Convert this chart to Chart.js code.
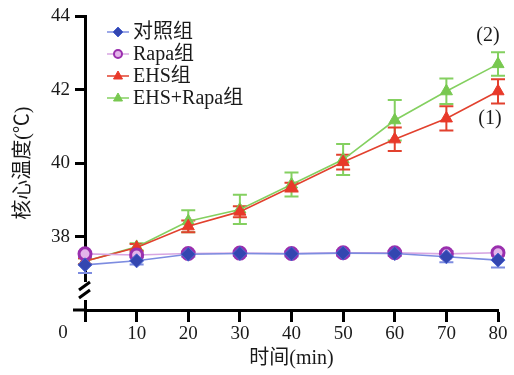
<!DOCTYPE html>
<html>
<head>
<meta charset="utf-8">
<script src="https://cdn.jsdelivr.net/npm/chart.js@4.4.1/dist/chart.umd.min.js"></script>
<style>
  html, body { margin: 0; padding: 0; background: #fff; }
  #wrap { width: 514px; height: 375px; position: relative; }
</style>
</head>
<body>
<div id="wrap"><canvas id="c"></canvas></div>
<script>
  // ── Data ───────────────────────────────────────────────────────────────
  const TIMES = [0, 10, 20, 30, 40, 50, 60, 70, 80];
  const SERIES_NAMES = ["对照组", "Rapa组", "EHS组", "EHS+Rapa组"];

  const CONTROL = [37.23, 37.34, 37.52, 37.54, 37.53, 37.55, 37.54, 37.45, 37.36];
  const RAPA = [37.53, 37.5, 37.54, 37.55, 37.54, 37.56, 37.56, 37.53, 37.56];
  const EHS = [37.33, 37.7, 38.28, 38.68, 39.35, 40.03, 40.65, 41.22, 41.96];
  const EHS_RAPA = [37.33, 37.72, 38.42, 38.74, 39.42, 40.1, 41.17, 41.96, 42.7];

  const CONTROL_ERR = [0.22, 0.1, 0.07, 0.07, 0.07, 0.07, 0.07, 0.15, 0.2];
  const RAPA_ERR = [0.06, 0.06, 0.05, 0.05, 0.05, 0.05, 0.05, 0.08, 0.08];
  const EHS_ERR = [0.08, 0.1, 0.16, 0.15, 0.12, 0.2, 0.32, 0.33, 0.33];
  const EHS_RAPA_ERR = [0.08, 0.1, 0.3, 0.4, 0.33, 0.42, 0.55, 0.35, 0.32];

  const Y_TICKS = [38, 40, 42, 44];
  const X_TICKS = [0, 10, 20, 30, 40, 50, 60, 70, 80];

  const FONT = "'Liberation Serif', 'Noto Sans CJK SC', serif";

  const STYLES = [
    { line: "#7d8ce0", fill: "#3346b0", border: "#4a63d0", point: "rectRot", r: 7 },
    { line: "#d8a6e2", fill: "#e3b4ea", border: "#9a2fae", point: "circle", r: 6 },
    { line: "#e2412e", fill: "#e8392a", border: "#e8392a", point: "triangle", r: 7 },
    { line: "#84d060", fill: "#78c850", border: "#78c850", point: "triangle", r: 7 },
  ];
  const VALUES = [CONTROL, RAPA, EHS, EHS_RAPA];
  const ERRORS = [CONTROL_ERR, RAPA_ERR, EHS_ERR, EHS_RAPA_ERR];

  // ── Error bars under the markers ─────────────────────────────────────────
  const errorBars = {
    id: "errorBars",
    beforeDatasetsDraw(chart) {
      const { ctx, scales: { x, y } } = chart;
      ctx.save();
      for (let d = VALUES.length - 1; d >= 0; d--) {
        ctx.strokeStyle = STYLES[d].line;
        ctx.lineWidth = 2;
        VALUES[d].forEach((v, i) => {
          const px = x.getPixelForValue(TIMES[i]);
          const top = y.getPixelForValue(v + ERRORS[d][i]);
          const bot = y.getPixelForValue(v - ERRORS[d][i]);
          ctx.beginPath();
          ctx.moveTo(px, top); ctx.lineTo(px, bot);
          ctx.moveTo(px - 7, top); ctx.lineTo(px + 7, top);
          ctx.moveTo(px - 7, bot); ctx.lineTo(px + 7, bot);
          ctx.stroke();
        });
      }
      ctx.restore();
    },
  };

  function marker(ctx, s, cx, cy, r) {
    ctx.beginPath();
    if (s.point === "rectRot") {
      ctx.moveTo(cx, cy - r); ctx.lineTo(cx + r, cy);
      ctx.lineTo(cx, cy + r); ctx.lineTo(cx - r, cy);
      ctx.closePath();
    } else if (s.point === "circle") {
      ctx.arc(cx, cy, r, 0, Math.PI * 2);
    } else {
      ctx.moveTo(cx, cy - r); ctx.lineTo(cx + r * 0.9, cy + r * 0.6);
      ctx.lineTo(cx - r * 0.9, cy + r * 0.6);
      ctx.closePath();
    }
    ctx.fillStyle = s.fill;
    ctx.fill();
    ctx.lineWidth = s.point === "circle" ? 2 : 1;
    ctx.strokeStyle = s.border;
    ctx.stroke();
  }

  // ── Legend, axis break, stray labels ─────────────────────────────────────
  const extras = {
    id: "extras",
    afterDraw(chart) {
      const { ctx, scales: { x, y } } = chart;
      ctx.save();
      // legend
      ctx.font = "20px " + FONT;
      ctx.textBaseline = "middle";
      SERIES_NAMES.forEach((name, i) => {
        const ry = 32 + i * 22;
        const s = STYLES[i];
        ctx.strokeStyle = s.line;
        ctx.lineWidth = 1.5;
        ctx.beginPath();
        ctx.moveTo(107, ry); ctx.lineTo(129, ry);
        ctx.stroke();
        marker(ctx, s, 118, ry, s.point === "circle" ? 4 : 5);
        ctx.fillStyle = "#1a1a1a";
        ctx.fillText(name, 133, ry + 1);
      });

      // curve labels
      ctx.textAlign = "center";
      ctx.fillText("(2)", 488, 36);
      ctx.fillText("(1)", 490, 119);

      // origin label and x-axis stub to the left
      const x0 = x.getPixelForValue(0);
      const yb = y.getPixelForValue(36);
      ctx.font = "19px " + FONT;
      ctx.fillText("0", 63, 333);
      ctx.strokeStyle = "#000";
      ctx.lineWidth = 3;
      ctx.beginPath();
      ctx.moveTo(73, yb); ctx.lineTo(x0, yb);
      ctx.stroke();

      // axis break
      ctx.fillStyle = "#fff";
      ctx.fillRect(x0 - 3, 282, 6, 18);
      ctx.lineWidth = 3;
      ctx.strokeStyle = "#000";
      ctx.beginPath();
      ctx.moveTo(x0 - 6, 290); ctx.lineTo(x0 + 5, 282);
      ctx.moveTo(x0 - 6, 298); ctx.lineTo(x0 + 5, 290);
      ctx.stroke();
      ctx.restore();
    },
  };

  const datasets = VALUES.map((vals, i) => ({
    label: SERIES_NAMES[i],
    data: vals.map((v, k) => ({ x: TIMES[k], y: v })),
    borderColor: STYLES[i].line,
    borderWidth: 1.6,
    backgroundColor: STYLES[i].fill,
    pointStyle: STYLES[i].point,
    pointRadius: STYLES[i].r,
    pointBackgroundColor: STYLES[i].fill,
    pointBorderColor: STYLES[i].border,
    pointBorderWidth: STYLES[i].point === "circle" ? 3 : 1,
    tension: 0,
    clip: false,
  }));

  new Chart(document.getElementById("c"), {
    type: "line",
    data: { datasets },
    options: {
      responsive: true,
      maintainAspectRatio: false,
      animation: false,
      layout: { padding: { top: 16, right: 16, left: 0, bottom: 0 } },
      plugins: { legend: { display: false }, tooltip: { enabled: false } },
      scales: {
        x: {
          type: "linear",
          min: 0,
          max: 80,
          afterBuildTicks: (s) => { s.ticks = X_TICKS.map((v) => ({ value: v })); },
          afterFit: (s) => { s.height = 65; },
          ticks: {
            callback: (v) => (v === 0 ? "" : v),
            color: "#1a1a1a",
            font: { family: FONT, size: 19 },
            padding: 1,
            maxRotation: 0,
          },
          grid: { drawOnChartArea: false, tickLength: 12, tickWidth: 3, tickColor: "#000" },
          border: { color: "#000", width: 3 },
          title: {
            display: true,
            text: "时间(min)",
            color: "#1a1a1a",
            font: { family: FONT, size: 20 },
            padding: { top: 0, bottom: 4 },
          },
        },
        y: {
          min: 36,
          max: 44,
          afterBuildTicks: (s) => { s.ticks = Y_TICKS.map((v) => ({ value: v })); },
          afterFit: (s) => { s.width = 85; },
          ticks: {
            color: "#1a1a1a",
            font: { family: FONT, size: 19 },
            padding: 5,
          },
          grid: { drawOnChartArea: false, tickLength: 10, tickWidth: 3, tickColor: "#000" },
          border: { color: "#000", width: 3 },
          title: {
            display: true,
            text: "核心温度(℃)",
            color: "#1a1a1a",
            font: { family: FONT, size: 20 },
            padding: { top: 12, bottom: 0 },
          },
        },
      },
    },
    plugins: [errorBars, extras],
  });
</script>
</body>
</html>
